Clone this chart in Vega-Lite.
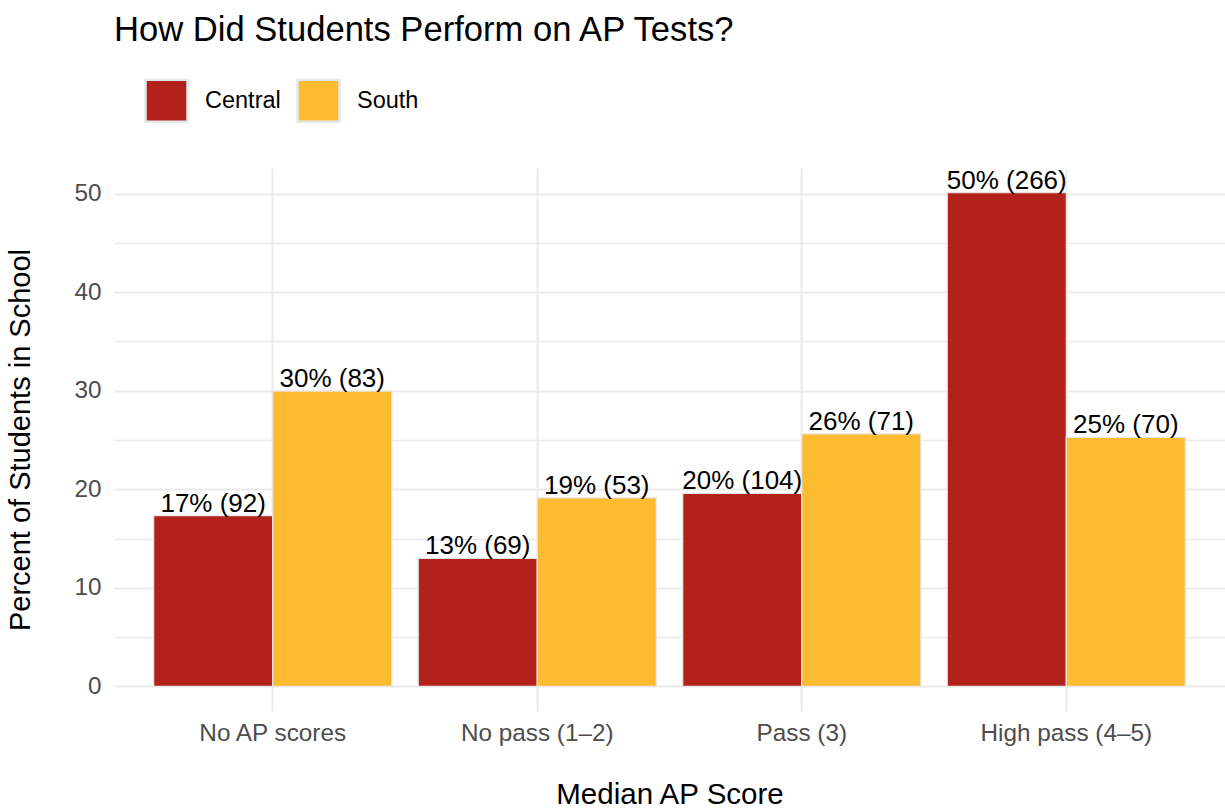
{
  "$schema": "https://vega.github.io/schema/vega-lite/v6.json",
  "width": 1111,
  "height": 543,
  "autosize": {"type": "none"},
  "padding": {"left": 114, "top": 168, "right": 0, "bottom": 97},
  "background": "white",
  "title": {
    "text": "How Did Students Perform on AP Tests?",
    "anchor": "start",
    "frame": "group",
    "font": "Liberation Sans",
    "fontSize": 34.6,
    "fontWeight": "normal",
    "color": "#000000",
    "offset": 29
  },
  "config": {
    "view": {"stroke": null},
    "font": "Liberation Sans"
  },
  "data": {
    "values": [
      {"score": "No AP scores", "school": "Central", "pct": 17.33, "label": "17% (92)"},
      {"score": "No AP scores", "school": "South", "pct": 29.96, "label": "30% (83)"},
      {"score": "No pass (1–2)", "school": "Central", "pct": 12.99, "label": "13% (69)"},
      {"score": "No pass (1–2)", "school": "South", "pct": 19.13, "label": "19% (53)"},
      {"score": "Pass (3)", "school": "Central", "pct": 19.59, "label": "20% (104)"},
      {"score": "Pass (3)", "school": "South", "pct": 25.63, "label": "26% (71)"},
      {"score": "High pass (4–5)", "school": "Central", "pct": 50.09, "label": "50% (266)"},
      {"score": "High pass (4–5)", "school": "South", "pct": 25.27, "label": "25% (70)"}
    ]
  },
  "encoding": {
    "x": {
      "field": "score",
      "type": "nominal",
      "sort": ["No AP scores", "No pass (1–2)", "Pass (3)", "High pass (4–5)"],
      "scale": {"paddingInner": 0.1, "paddingOuter": 0.15},
      "axis": {
        "title": "Median AP Score",
        "titleFont": "Liberation Sans",
        "titleFontSize": 29.5,
        "titleFontWeight": "normal",
        "titleColor": "#000000",
        "titlePadding": 35,
        "labelAngle": 0,
        "labelFont": "Liberation Sans",
        "labelFontSize": 24.3,
        "labelColor": "#4D4D4D",
        "labelPadding": 10,
        "ticks": false,
        "domain": false,
        "grid": true,
        "gridColor": "#EBEBEB",
        "gridWidth": 2,
        "bandPosition": 0.5
      }
    },
    "xOffset": {
      "field": "school",
      "type": "nominal",
      "sort": ["Central", "South"],
      "scale": {"paddingInner": 0, "paddingOuter": 0}
    },
    "y": {
      "field": "pct",
      "type": "quantitative",
      "scale": {"domain": [-2.5, 52.6], "nice": false, "zero": false},
      "axis": {
        "title": "Percent of Students in School",
        "titleFont": "Liberation Sans",
        "titleFontSize": 29,
        "titleFontWeight": "normal",
        "titleColor": "#000000",
        "titlePadding": 38,
        "values": [0, 5, 10, 15, 20, 25, 30, 35, 40, 45, 50],
        "labelExpr": "datum.value % 10 === 0 ? datum.label : ''",
        "labelFont": "Liberation Sans",
        "labelFontSize": 24.3,
        "labelColor": "#4D4D4D",
        "labelPadding": 13,
        "ticks": false,
        "domain": false,
        "grid": true,
        "gridColor": "#EBEBEB",
        "gridWidth": {"condition": {"test": "datum.value % 10 === 0", "value": 2.2}, "value": 1.3}
      }
    }
  },
  "layer": [
    {
      "mark": {"type": "bar", "stroke": "#E6E6E6", "strokeWidth": 1.2},
      "encoding": {
        "y2": {"datum": 0},
        "color": {
          "field": "school",
          "type": "nominal",
          "scale": {"domain": ["Central", "South"], "range": ["#B2221A", "#FDBB30"]},
          "legend": {
            "title": null,
            "orient": "none",
            "direction": "horizontal",
            "legendX": 30,
            "legendY": -90,
            "symbolType": "square",
            "symbolSize": 1764,
            "symbolStrokeColor": "#E4E7EB",
            "symbolStrokeWidth": 2.5,
            "symbolOpacity": 1,
            "labelFont": "Liberation Sans",
            "labelFontSize": 23.5,
            "labelColor": "#000000",
            "labelOffset": 16,
            "columnPadding": 11
          }
        }
      }
    },
    {
      "mark": {"type": "text", "baseline": "bottom", "align": "center", "font": "Liberation Sans", "fontSize": 26, "color": "#000000", "dy": 1},
      "encoding": {
        "text": {"field": "label", "type": "nominal"}
      }
    }
  ]
}
